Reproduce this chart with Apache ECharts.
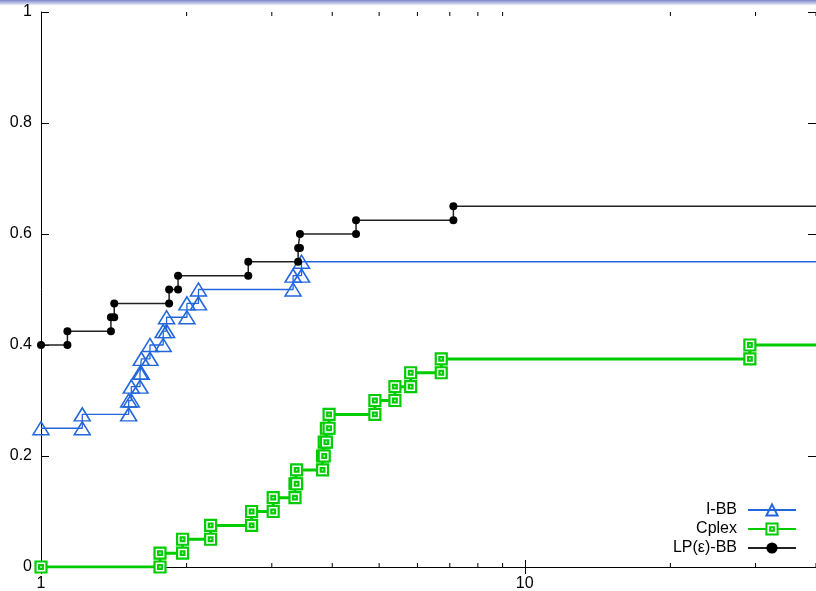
<!DOCTYPE html>
<html>
<head>
<meta charset="utf-8">
<script src="https://cdn.jsdelivr.net/npm/echarts@6/dist/echarts.min.js"></script>
<style>
  html, body { margin: 0; padding: 0; background: #fff; }
  #chart { width: 816px; height: 591px; }
</style>
</head>
<body>
<div id="chart"></div>
<script>
// performance profile data (ratio, fraction of instances)
var ibbX = [1, 1.217, 1.217, 1.518, 1.518, 1.537, 1.537, 1.602, 1.602, 1.612, 1.612, 1.68, 1.68,
            1.789, 1.789, 1.818, 1.818, 2.003, 2.003, 2.116, 2.116, 3.32, 3.32, 3.456, 3.456, 40];
var ibbY = [0.25, 0.25, 0.275, 0.275, 0.3, 0.3, 0.325, 0.325, 0.35, 0.35, 0.375, 0.375, 0.4,
            0.4, 0.425, 0.425, 0.45, 0.45, 0.475, 0.475, 0.5, 0.5, 0.525, 0.525, 0.55, 0.55];

var cplexX = [1, 1.762, 1.762, 1.962, 1.962, 2.242, 2.242, 2.725, 2.725, 3.02, 3.02, 3.35, 3.35,
              3.376, 3.376, 3.82, 3.82, 3.85, 3.85, 3.89, 3.89, 3.94, 3.94, 4.90, 4.90, 5.39, 5.39,
              5.81, 5.81, 6.72, 6.72, 29.2, 29.2, 40];
var cplexY = [0, 0, 0.025, 0.025, 0.05, 0.05, 0.075, 0.075, 0.1, 0.1, 0.125, 0.125, 0.15,
              0.15, 0.175, 0.175, 0.2, 0.2, 0.225, 0.225, 0.25, 0.25, 0.275, 0.275, 0.3, 0.3, 0.325,
              0.325, 0.35, 0.35, 0.375, 0.375, 0.4, 0.4];

var lpX = [1, 1.134, 1.134, 1.395, 1.395, 1.417, 1.417, 1.84, 1.84, 1.92, 1.92, 2.682, 2.682,
           3.40, 3.40, 3.43, 3.43, 4.48, 4.48, 7.12, 7.12, 40];
var lpY = [0.4, 0.4, 0.425, 0.425, 0.45, 0.45, 0.475, 0.475, 0.5, 0.5, 0.525, 0.525, 0.55,
           0.55, 0.575, 0.575, 0.6, 0.6, 0.625, 0.625, 0.65, 0.65];

var seriesNames = ['I-BB', 'Cplex', 'LP(ε)-BB'];
var minorTicks = [2, 3, 4, 5, 6, 7, 8, 9, 20, 30, 40];

var FONT = '"Liberation Sans", Arial, sans-serif';

function pairs(xs, ys) {
    return xs.map(function (x, i) {
        var p = {value: [x, ys[i]]};
        if (i === xs.length - 1) p.symbol = 'none';   // line runs on to the border
        return p;
    });
}

var myChart = echarts.init(document.getElementById('chart'));

myChart.setOption({
    animation: false,
    backgroundColor: '#fff',
    textStyle: {fontFamily: FONT},
    graphic: [{
        type: 'rect',
        shape: {x: 0, y: 0, width: 816, height: 5},
        style: {
            fill: new echarts.graphic.LinearGradient(0, 0, 0, 1, [
                {offset: 0, color: '#7d86c8'},
                {offset: 1, color: '#e8eaf7'}
            ])
        },
        silent: true
    }],
    grid: {left: 41, right: 0, top: 12, bottom: 24, outerBoundsMode: 'none', containLabel: false},
    legend: {
        data: seriesNames,
        orient: 'vertical',
        align: 'right',
        right: 14,
        bottom: 30,
        itemWidth: 48,
        itemHeight: 14,
        itemGap: 3,
        textStyle: {fontFamily: FONT, fontSize: 16, color: '#000', padding: [0, 6, 0, 0]}
    },
    xAxis: [{
        type: 'log',
        logBase: 10,
        min: 1,
        max: 40,
        axisLine: {lineStyle: {color: '#000', width: 1}},
        axisTick: {inside: true, length: 7, lineStyle: {color: '#000'}},
        axisLabel: {color: '#000', fontSize: 16, fontFamily: FONT, margin: 9, showMaxLabel: false},
        splitLine: {show: false}
    }, {
        type: 'log',
        logBase: 10,
        min: 1,
        max: 40,
        position: 'top',
        axisLine: {lineStyle: {color: '#000', width: 1}},
        axisTick: {inside: true, length: 7, lineStyle: {color: '#000'}},
        axisLabel: {show: false},
        splitLine: {show: false}
    }],
    yAxis: [{
        type: 'value',
        min: 0,
        max: 1,
        interval: 0.2,
        axisLine: {show: true, lineStyle: {color: '#000', width: 1}},
        axisTick: {show: true, inside: true, length: 8, lineStyle: {color: '#000'}},
        axisLabel: {color: '#000', fontSize: 16, fontFamily: FONT, margin: 9},
        splitLine: {show: false}
    }, {
        type: 'value',
        min: 0,
        max: 1,
        interval: 0.2,
        position: 'right',
        axisLine: {show: true, lineStyle: {color: '#000', width: 1}},
        axisTick: {show: true, inside: true, length: 8, lineStyle: {color: '#000'}},
        axisLabel: {show: false},
        splitLine: {show: false}
    }],
    series: [{
        name: 'I-BB',
        type: 'line',
        data: pairs(ibbX, ibbY),
        symbol: 'triangle',
        symbolSize: [16, 13],
        showAllSymbol: true,
        lineStyle: {color: '#2266dd', width: 1.3},
        itemStyle: {color: 'rgba(255,255,255,0)', borderColor: '#2266dd', borderWidth: 1.5},
        z: 2
    }, {
        name: 'Cplex',
        type: 'line',
        data: pairs(cplexX, cplexY),
        // square with a small square inside, like the gnuplot point
        symbol: 'path://M0,0H12V12H0ZM4,4H8V8H4Z',
        symbolSize: 11,
        showAllSymbol: true,
        lineStyle: {color: '#00cc00', width: 3},
        itemStyle: {color: '#ffffff', borderColor: '#00cc00', borderWidth: 2.2},
        z: 3
    }, {
        name: 'LP(ε)-BB',
        type: 'line',
        data: pairs(lpX, lpY),
        symbol: 'circle',
        symbolSize: 8,
        showAllSymbol: true,
        lineStyle: {color: '#222', width: 1.5},
        itemStyle: {color: '#000'},
        z: 4
    }, {
        // minor log ticks on bottom and top borders
        type: 'custom',
        coordinateSystem: 'cartesian2d',
        silent: true,
        clip: true,
        data: minorTicks.map(function (v) { return [v, 0]; }),
        renderItem: function (params, api) {
            var b = api.coord([api.value(0), 0]);
            var t = api.coord([api.value(0), 1]);
            return {
                type: 'group',
                children: [
                    {type: 'line', shape: {x1: b[0], y1: b[1], x2: b[0], y2: b[1] - 4}, style: {stroke: '#000', lineWidth: 1}},
                    {type: 'line', shape: {x1: t[0], y1: t[1], x2: t[0], y2: t[1] + 4}, style: {stroke: '#000', lineWidth: 1}}
                ]
            };
        },
        z: 1
    }]
});
</script>
</body>
</html>
